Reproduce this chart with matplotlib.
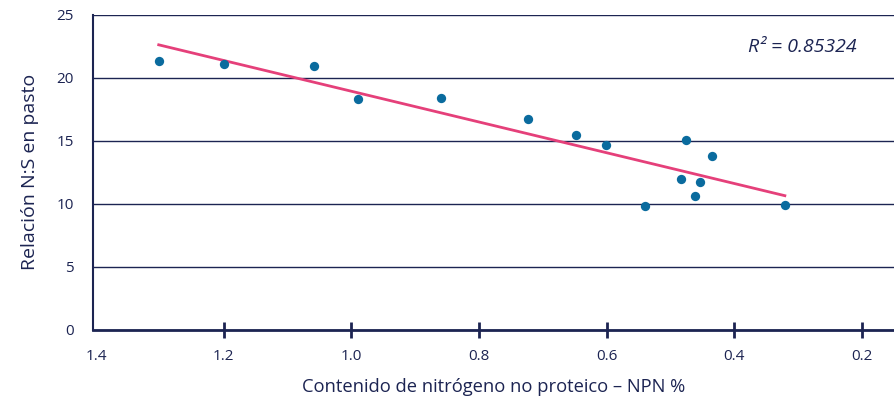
import numpy as np
import matplotlib
matplotlib.use('Agg')
import matplotlib.pyplot as plt

# NPN % vs N:S ratio in pasture
npn = [1.302, 1.200, 1.059, 0.990, 0.860, 0.724, 0.649, 0.602,
       0.540, 0.476, 0.483, 0.462, 0.454, 0.435, 0.321]
ns_ratio = [21.3, 21.1, 20.9, 18.3, 18.4, 16.7, 15.5, 14.7,
            9.8, 15.05, 12.0, 10.6, 11.7, 13.8, 9.9]
r2_text = 'R² = 0.85324'
y_ticks = [0, 5, 10, 15, 20, 25]
x_ticks = [1.4, 1.2, 1.0, 0.8, 0.6, 0.4, 0.2]

navy = '#1c2452'
plt.rcParams['font.family'] = ['Open Sans', 'DejaVu Sans']

fig = plt.figure(figsize=(8.94, 3.98), dpi=100)
ax = fig.add_axes([0.104, 0.171, 0.896, 0.792])

ax.scatter(npn, ns_ratio, s=45, color='#0a6b9e', zorder=3, linewidths=0)

# linear trend over the data range
slope, icept = np.polyfit(npn, ns_ratio, 1)
xs = np.array([max(npn), min(npn)])
ax.plot(xs, slope * xs + icept, color='#e5407a', lw=2, zorder=2)

ax.set_xlim(1.405, 0.15)
ax.set_ylim(0, 25)
ax.set_xticks(x_ticks)
ax.set_xticklabels([f'{v:.1f}' for v in x_ticks])
ax.set_yticks(y_ticks)

ax.grid(axis='y', color=navy, lw=1)
ax.set_axisbelow(True)
for s in ['top', 'right']:
    ax.spines[s].set_visible(False)
ax.spines['left'].set_color(navy)
ax.spines['left'].set_linewidth(1.5)
ax.spines['bottom'].set_color(navy)
ax.spines['bottom'].set_linewidth(2)

ax.tick_params(axis='x', direction='inout', length=11, width=2, color=navy,
               labelsize=11, labelcolor=navy, pad=8)
ax.tick_params(axis='y', length=0, labelsize=11, labelcolor=navy, pad=14)
# no tick mark where the axes meet
ax.xaxis.get_major_ticks()[0].tick1line.set_visible(False)

ax.set_xlabel('Contenido de nitrógeno no proteico – NPN %', fontsize=13.2,
              color=navy, labelpad=10)
ax.set_ylabel('Relación N:S en pasto', fontsize=14, color=navy, labelpad=12)

ax.text(0.886, 0.898, r2_text, transform=ax.transAxes, fontsize=14,
        style='italic', color=navy, ha='center', va='center')

fig.savefig('out.png', dpi=100)
